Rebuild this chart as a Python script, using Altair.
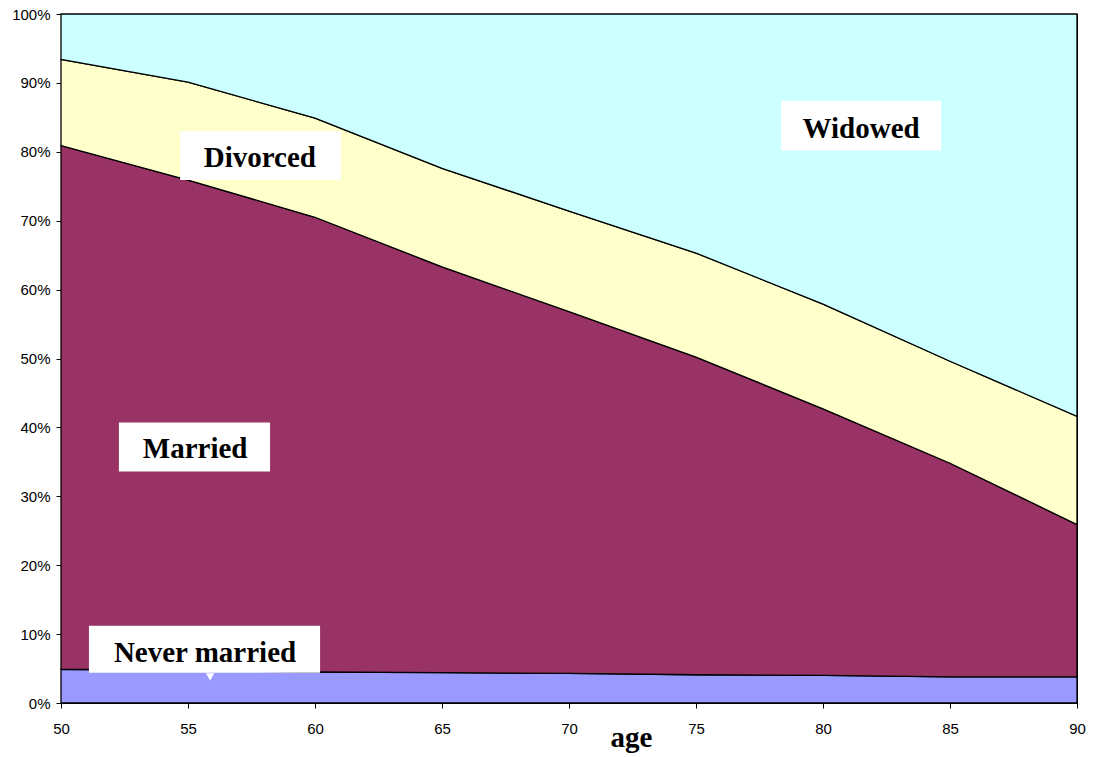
import altair as alt
import pandas as pd

ages = [50, 55, 60, 65, 70, 75, 80, 85, 90]
categories = ["Never married", "Married", "Divorced", "Widowed"]
never_married = [4.9, 4.7, 4.5, 4.4, 4.3, 4.1, 4.0, 3.8, 3.8]
married = [76.0, 71.2, 66.0, 58.9, 52.5, 46.1, 38.7, 31.0, 22.1]
divorced = [12.5, 14.2, 14.4, 14.3, 14.6, 15.1, 15.2, 14.8, 15.7]
widowed = [6.6, 9.9, 15.1, 22.4, 28.6, 34.7, 42.1, 50.4, 58.4]
colors = ["#9999FF", "#993366", "#FFFFCC", "#CCFFFF"]

# label annotations (data coordinates: age, percent)
lab_text = ["Widowed", "Divorced", "Married", "Never married"]
lab_x = [81.5, 57.83, 55.28, 55.67]
lab_y = [83.3, 79.1, 36.8, 7.3]
box_x1 = [78.35, 54.69, 52.28, 51.10]
box_x2 = [84.65, 61.02, 58.23, 60.20]
box_y1 = [80.2, 75.9, 33.6, 4.4]
box_y2 = [87.4, 83.0, 40.7, 11.2]

series = [never_married, married, divorced, widowed]
rows = []
for ci, (cat, vals) in enumerate(zip(categories, series)):
    for a, v in zip(ages, vals):
        rows.append({"age": a, "status": cat, "pct": v, "ord": ci})
df = pd.DataFrame(rows)

labels = pd.DataFrame({
    "text": lab_text, "x": lab_x, "y": lab_y,
    "x1": box_x1, "x2": box_x2, "y1": box_y1, "y2": box_y2,
})
pointer = pd.DataFrame({"x": [55.87], "y": [3.8]})

xscale = alt.Scale(domain=[50, 90], nice=False, zero=False)
yscale = alt.Scale(domain=[0, 100], nice=False)

area = alt.Chart(df).mark_area(stroke="black", strokeWidth=1.3, interpolate="linear").encode(
    x=alt.X("age:Q", scale=xscale,
            axis=alt.Axis(values=ages, title="age", grid=False, tickSize=5, labelFlush=False,
                          tickColor="black", domainColor="black", labelColor="black",
                          labelFont="Liberation Sans", labelFontSize=15, labelPadding=13,
                          titleFont="Liberation Serif", titleFontSize=29, titleFontWeight="bold",
                          titleColor="black", titleX=570, titleY=43, titleAlign="center",
                          titleBaseline="alphabetic")),
    y=alt.Y("pct:Q", stack="zero", scale=yscale,
            axis=alt.Axis(values=list(range(0, 101, 10)), labelExpr="datum.value + '%'",
                          title=None, grid=False, tickSize=5, tickColor="black",
                          labelFlush=False,
                          domainColor="black", labelColor="black",
                          labelFont="Liberation Sans", labelFontSize=15, labelPadding=6)),
    color=alt.Color("status:N", scale=alt.Scale(domain=categories, range=colors), legend=None),
    order=alt.Order("ord:Q"),
)

boxes = alt.Chart(labels).mark_rect(color="white").encode(
    x=alt.X("x1:Q", scale=xscale), x2="x2:Q",
    y=alt.Y("y1:Q", scale=yscale), y2="y2:Q",
)

ptr = alt.Chart(pointer).mark_point(shape="triangle-down", filled=True, color="white",
                                    size=70, opacity=1).encode(
    x=alt.X("x:Q", scale=xscale), y=alt.Y("y:Q", scale=yscale),
)

texts = alt.Chart(labels).mark_text(font="Liberation Serif", fontSize=29, fontWeight="bold",
                                    color="black", baseline="middle", align="center").encode(
    x=alt.X("x:Q", scale=xscale), y=alt.Y("y:Q", scale=yscale), text="text:N",
)

chart = alt.layer(area, boxes, ptr, texts).properties(
    width=1016, height=689,
    autosize=alt.AutoSizeParams(type="none"),
    padding={"left": 53, "top": 6, "right": 9, "bottom": 50},
    background="white",
).configure_view(stroke="black", strokeWidth=1)

chart.save("out.html", embed_options={"renderer": "svg", "actions": False})
